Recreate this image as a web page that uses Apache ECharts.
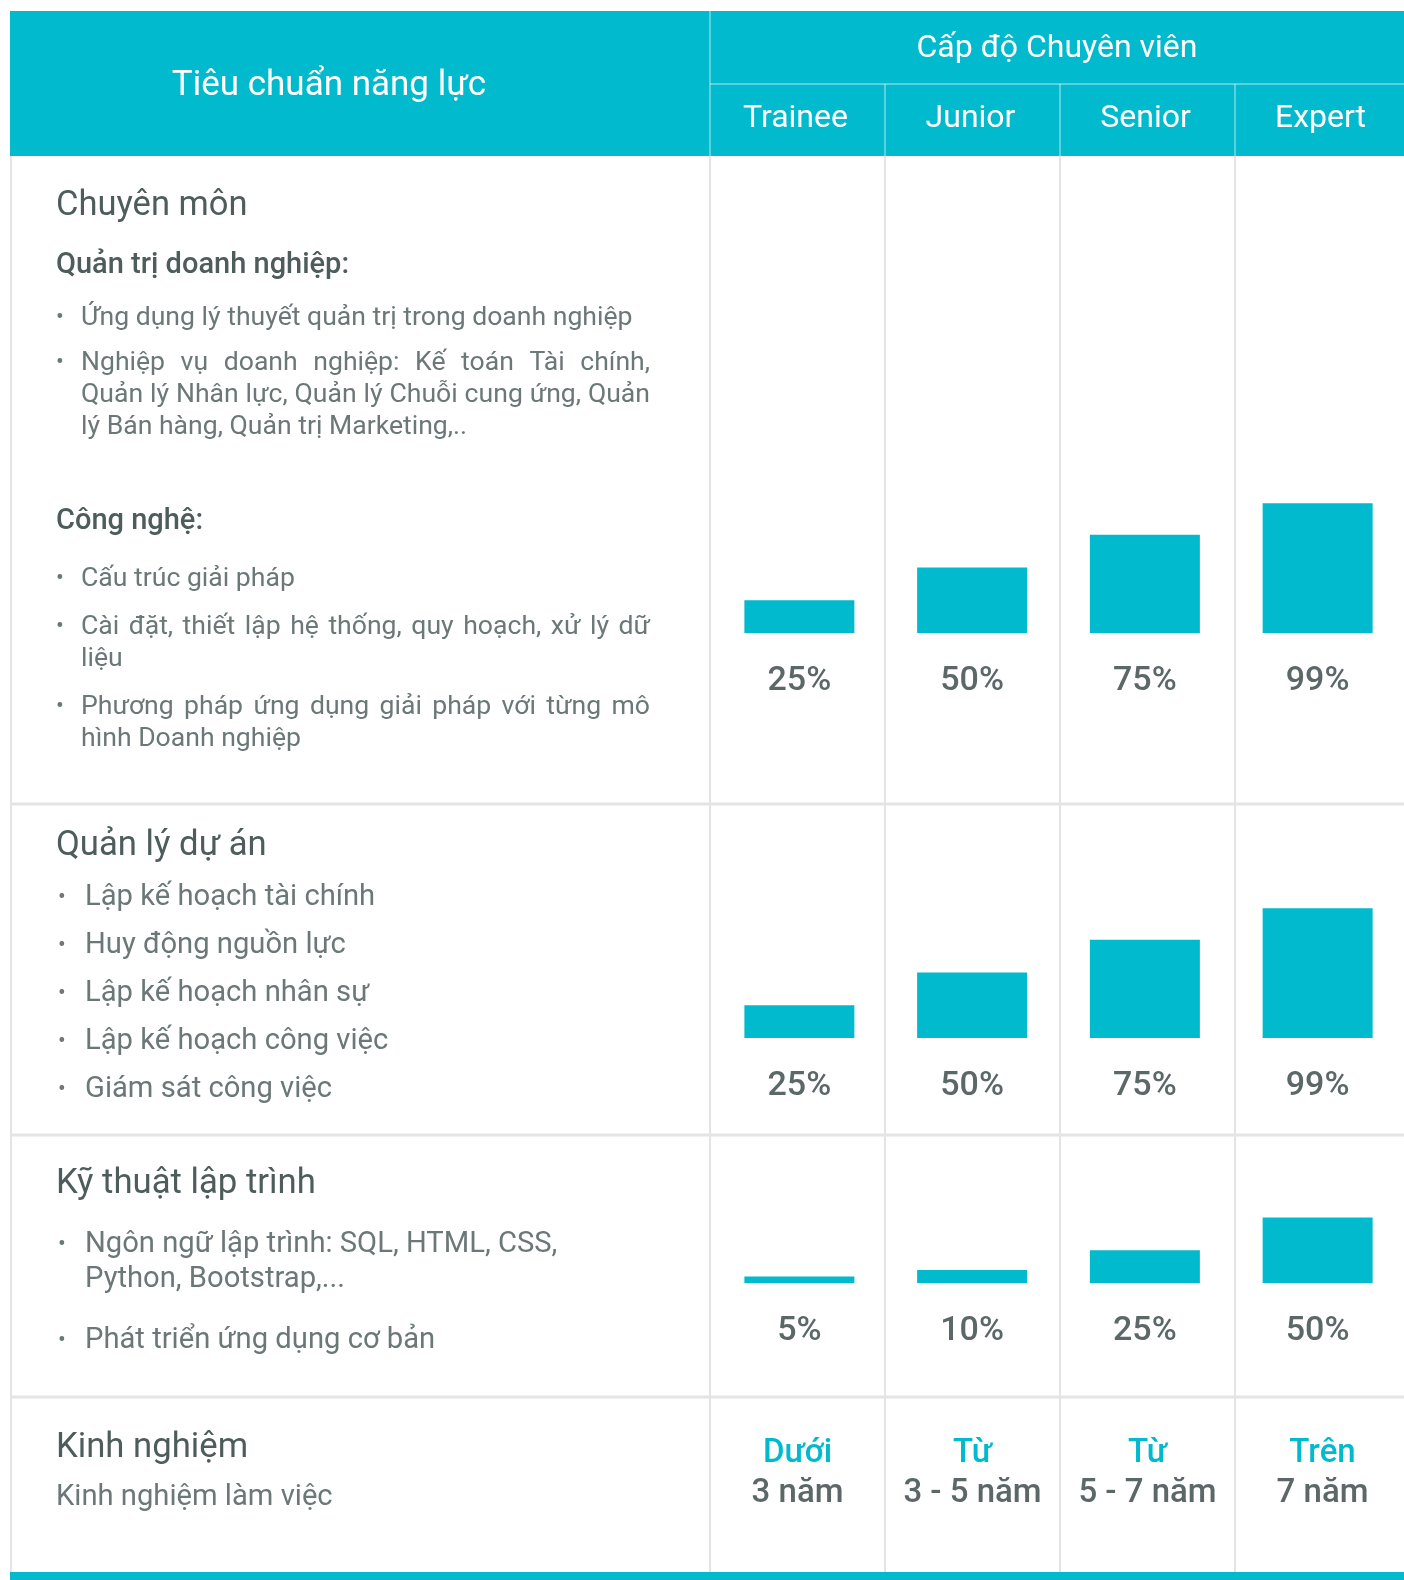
<!DOCTYPE html>
<html>
<head>
<meta charset="utf-8">
<script src="https://cdn.jsdelivr.net/npm/echarts@6/dist/echarts.min.js"></script>
<style>
html, body { margin: 0; padding: 0; background: #fff; }
#chart { width: 1404px; height: 1580px; }
</style>
</head>
<body>
<div id="chart"></div>
<script>
// data
var levels = ['Trainee', 'Junior', 'Senior', 'Expert'];
var chuyenMon = [25, 50, 75, 99];
var quanLyDuAn = [25, 50, 75, 99];
var kyThuatLapTrinh = [5, 10, 25, 50];
var kinhNghiemTu = ['Dưới', 'Từ', 'Từ', 'Trên'];
var kinhNghiemNam = ['3 năm', '3 - 5 năm', '5 - 7 năm', '7 năm'];

var TEAL = '#02bacd';
var HEAD = '#4e5c5c';
var BODY = '#6c7777';
var LINE = '#e4e4e4';
var FONT = 'Roboto';

var colLeft = 710, colW = 175;
function colCenter(i) { return colLeft + colW * (i + 0.5); }

var measureCtx = document.createElement('canvas').getContext('2d');
var DY = 3; // small vertical nudge for the left column text

function txt(s, x, y, size, color, weight, align) {
    return {
        type: 'text', silent: true,
        style: {
            text: s, x: x, y: y, fill: color,
            fontSize: size, fontFamily: FONT, fontWeight: weight || 'normal',
            align: align || 'left', verticalAlign: 'middle'
        }
    };
}

// spread the words of a line across x0..x1 (justified text)
function justified(s, x0, x1, y, size, color) {
    measureCtx.font = size + 'px ' + FONT;
    var words = s.split(/\s+/);
    var widths = words.map(function (w) { return measureCtx.measureText(w).width; });
    var total = widths.reduce(function (a, b) { return a + b; }, 0);
    var gap = (x1 - x0 - total) / (words.length - 1);
    var x = x0, out = [];
    words.forEach(function (w, i) {
        out.push(txt(w, x, y, size, color));
        x += widths[i] + gap;
    });
    return out;
}

function line(x1, y1, x2, y2, color, w) {
    return { type: 'line', silent: true, shape: { x1: x1, y1: y1, x2: x2, y2: y2 }, style: { stroke: color, lineWidth: w } };
}

var g = [];
// header block
g.push({ type: 'rect', silent: true, shape: { x: 10, y: 11, width: 1394, height: 145 }, style: { fill: TEAL } });
g.push(line(710, 11, 710, 156, 'rgba(255,255,255,0.35)', 2));
g.push(line(710, 84, 1404, 84, 'rgba(255,255,255,0.35)', 2));
for (var i = 1; i < 4; i++) {
    g.push(line(colLeft + colW * i, 84, colLeft + colW * i, 156, 'rgba(255,255,255,0.35)', 2));
}
g.push(txt('Tiêu chuẩn năng lực', 329, 86, 35, '#fff', 'normal', 'center'));
g.push(txt('Cấp độ Chuyên viên', 1057, 49, 32, '#fff', 'normal', 'center'));
levels.forEach(function (l, i) {
    g.push(txt(l, colCenter(i) - 2, 119, 32, '#fff', 'normal', 'center'));
});

// table body lines
g.push(line(11, 156, 11, 1572, LINE, 2));
[804, 1135, 1397].forEach(function (y) { g.push(line(11, y, 1404, y, LINE, 3)); });
g.push(line(710, 156, 710, 1572, LINE, 2));
for (var j = 1; j < 4; j++) {
    g.push(line(colLeft + colW * j, 156, colLeft + colW * j, 1572, LINE, 2));
}
g.push({ type: 'rect', silent: true, shape: { x: 10, y: 1572, width: 1394, height: 8 }, style: { fill: TEAL } });

// row 1 text
g.push(txt('Chuyên môn', 56, 203 + DY, 34.5, HEAD));
g.push(txt('Quản trị doanh nghiệp:', 56, 263 + DY, 29, HEAD, 500));
g.push(txt('•', 56, 315 + DY, 23, BODY));
g.push(txt('Ứng dụng lý thuyết quản trị trong doanh nghiệp', 81, 315 + DY, 26.6, BODY));
g.push(txt('•', 56, 360 + DY, 23, BODY));
g = g.concat(justified('Nghiệp vụ doanh nghiệp:  Kế toán Tài chính,', 81, 650, 360 + DY, 26.6, BODY));
g = g.concat(justified('Quản lý Nhân lực, Quản lý Chuỗi cung ứng, Quản', 81, 650, 392 + DY, 26.6, BODY));
g.push(txt('lý Bán hàng, Quản trị Marketing,..', 81, 424 + DY, 26.6, BODY));
g.push(txt('Công nghệ:', 56, 519 + DY, 29, HEAD, 500));
g.push(txt('•', 56, 576 + DY, 23, BODY));
g.push(txt('Cấu trúc giải pháp', 81, 576 + DY, 26.6, BODY));
g.push(txt('•', 56, 624 + DY, 23, BODY));
g = g.concat(justified('Cài đặt, thiết lập hệ thống, quy hoạch, xử lý dữ', 81, 650, 624 + DY, 26.6, BODY));
g.push(txt('liệu', 81, 656 + DY, 26.6, BODY));
g.push(txt('•', 56, 704 + DY, 23, BODY));
g = g.concat(justified('Phương pháp ứng dụng giải pháp với từng mô', 81, 650, 704 + DY, 26.6, BODY));
g.push(txt('hình Doanh nghiệp', 81, 736 + DY, 26.6, BODY));

// row 2 text
g.push(txt('Quản lý dự án', 56, 843 + DY, 34.7, HEAD));
['Lập kế hoạch tài chính', 'Huy động nguồn lực', 'Lập kế hoạch nhân sự', 'Lập kế hoạch công việc', 'Giám sát công việc']
    .forEach(function (s, i) {
        var y = 895 + DY + i * 48;
        g.push(txt('•', 58, y, 23, BODY));
        g.push(txt(s, 85, y, 29.2, BODY));
    });

// row 3 text
g.push(txt('Kỹ thuật lập trình', 56, 1181 + DY, 34.7, HEAD));
g.push(txt('•', 58, 1242 + DY, 23, BODY));
g.push(txt('Ngôn ngữ lập trình: SQL, HTML, CSS,', 85, 1242 + DY, 29.2, BODY));
g.push(txt('Python, Bootstrap,...', 85, 1277 + DY, 29.2, BODY));
g.push(txt('•', 58, 1338 + DY, 23, BODY));
g.push(txt('Phát triển ứng dụng cơ bản', 85, 1338 + DY, 29.2, BODY));

// row 4 text
g.push(txt('Kinh nghiệm', 56, 1445 + DY, 34.7, HEAD));
g.push(txt('Kinh nghiệm làm việc', 56, 1495 + DY, 29.2, BODY));
kinhNghiemTu.forEach(function (s, i) {
    g.push(txt(s, colCenter(i), 1454, 33, TEAL, 500, 'center'));
    g.push(txt(kinhNghiemNam[i], colCenter(i), 1494, 33, '#5c6868', 500, 'center'));
});

var rows = [chuyenMon, quanLyDuAn, kyThuatLapTrinh];
var gridTops = [502, 907, 1152];

var option = {
    backgroundColor: '#fff',
    animation: false,
    grid: gridTops.map(function (t) { return { left: colLeft + 3, width: colW * 4, top: t, height: 131 }; }),
    xAxis: rows.map(function (r, i) {
        return { type: 'category', data: levels, gridIndex: i, show: false };
    }),
    yAxis: rows.map(function (r, i) {
        return { type: 'value', min: 0, max: 100, gridIndex: i, show: false };
    }),
    series: rows.map(function (r, i) {
        return {
            type: 'bar', xAxisIndex: i, yAxisIndex: i, data: r, barWidth: 110,
            itemStyle: { color: TEAL },
            label: {
                show: true, position: 'bottom', distance: 31, formatter: '{c}%',
                fontSize: 34, fontWeight: 500, color: '#5c6868', fontFamily: FONT
            }
        };
    }),
    graphic: g
};

var chart = echarts.init(document.getElementById('chart'));
chart.setOption(option);
window.onresize = function () { chart.resize(); };
</script>
</body>
</html>
